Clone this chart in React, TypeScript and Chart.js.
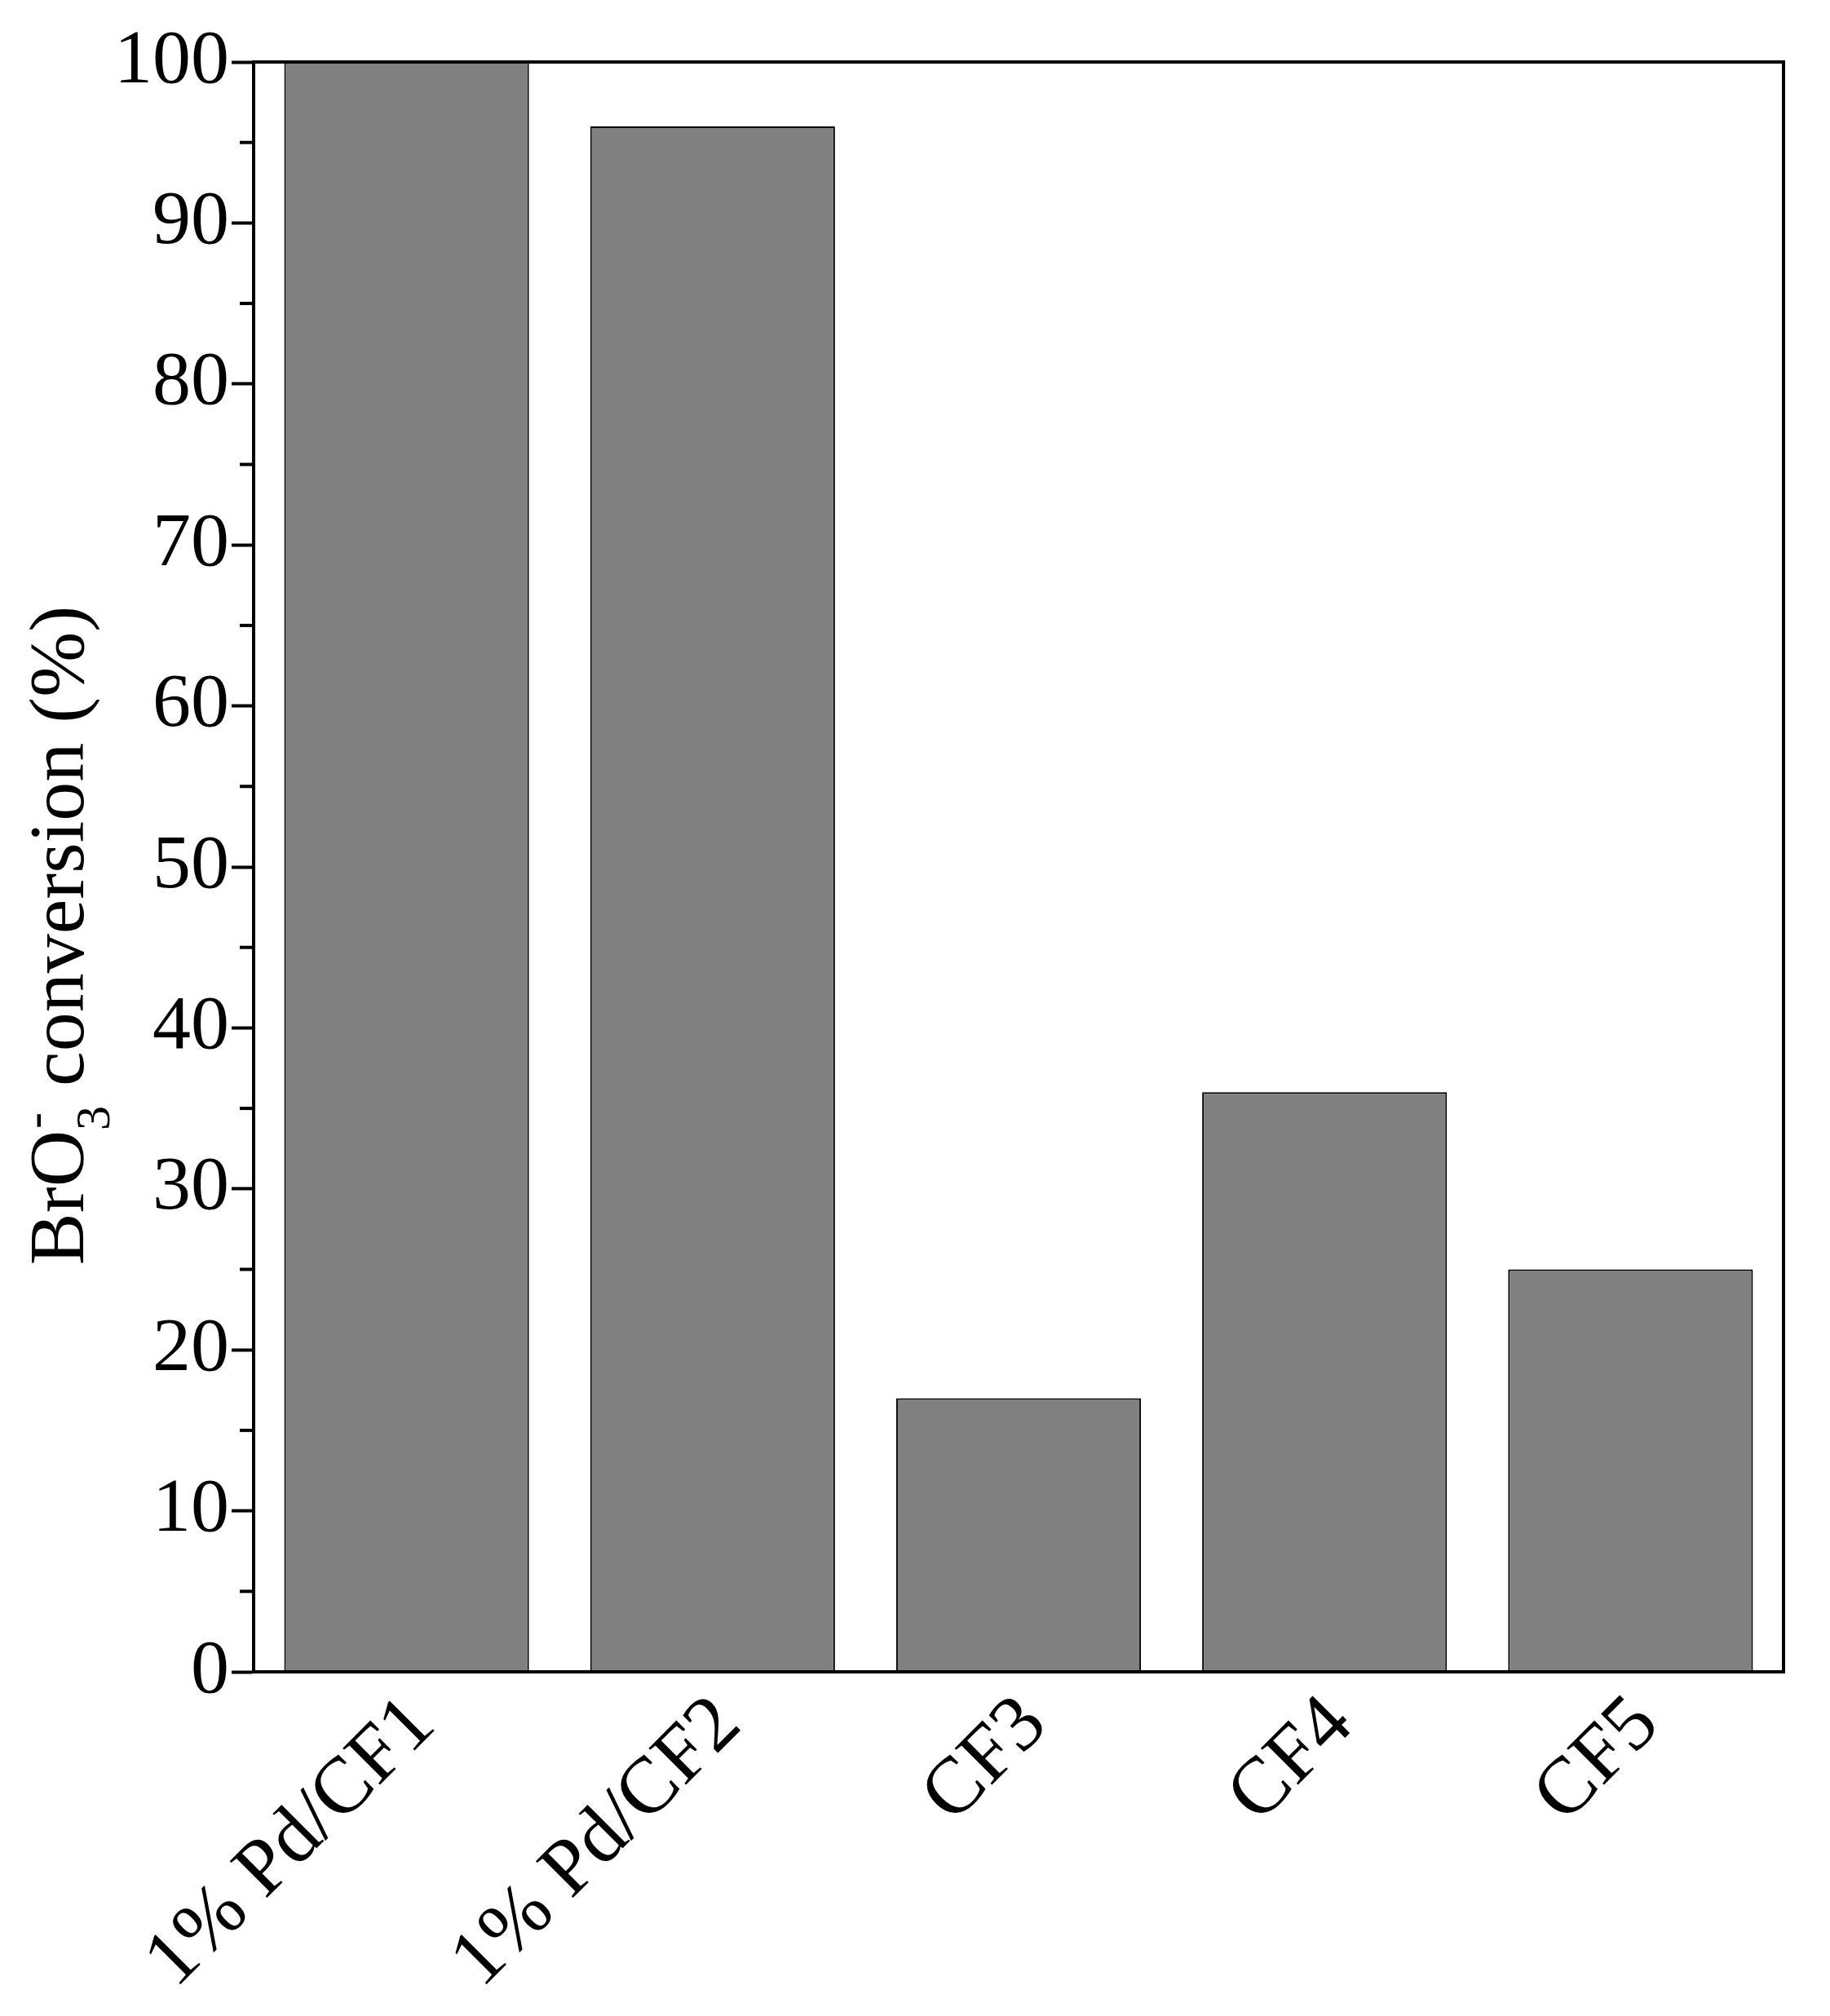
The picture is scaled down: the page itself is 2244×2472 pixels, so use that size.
import React, { useEffect, useRef } from "react";
import { Chart, registerables } from "chart.js";

Chart.register(...registerables);

const categories = ["1% Pd/CF1", "1% Pd/CF2", "CF3", "CF4", "CF5"];
const conversion = [100, 96, 17, 36, 25];
const yMin = 0;
const yMax = 100;
const yMajorStep = 10;
const yMinorValues = [5, 15, 25, 35, 45, 55, 65, 75, 85, 95];
const titleMain = "BrO";
const titleSub = "3";
const titleSup = "-";
const titleRest = " conversion (%)";

const FONT = '"Liberation Serif", "Times New Roman", serif';
const FS = 94;
const TFS = 96;
const XFS = 98;
const W = 2244;
const H = 2472;

const framePlugin = {
  id: "frame",
  afterDatasetsDraw(chart: any) {
    const { ctx, chartArea } = chart;
    const y = chart.scales.y;
    ctx.save();
    ctx.strokeStyle = "#000";
    ctx.lineWidth = 4;
    ctx.strokeRect(
      chartArea.left,
      chartArea.top,
      chartArea.right - chartArea.left,
      chartArea.bottom - chartArea.top
    );
    for (const v of yMinorValues) {
      const py = y.getPixelForValue(v);
      ctx.beginPath();
      ctx.moveTo(chartArea.left - 17, py);
      ctx.lineTo(chartArea.left, py);
      ctx.stroke();
    }
    ctx.restore();
  },
  afterDraw(chart: any) {
    const { ctx, chartArea } = chart;
    ctx.save();
    ctx.fillStyle = "#000";
    ctx.textAlign = "left";
    ctx.textBaseline = "alphabetic";
    const small = Math.round(TFS * 0.62);
    ctx.font = `${TFS}px ${FONT}`;
    const w1 = ctx.measureText(titleMain).width;
    const w3 = ctx.measureText(titleRest).width;
    ctx.font = `${small}px ${FONT}`;
    const w2 = Math.max(ctx.measureText(titleSub).width, ctx.measureText(titleSup).width);
    const total = w1 + w2 + w3;
    const centerY = (chartArea.top + chartArea.bottom) / 2 + 84;
    const baselineX = 102;
    ctx.translate(baselineX, centerY + total / 2);
    ctx.rotate(-Math.PI / 2);
    ctx.font = `${TFS}px ${FONT}`;
    ctx.fillText(titleMain, 0, 0);
    ctx.font = `${small}px ${FONT}`;
    ctx.fillText(titleSub, w1, TFS * 0.33);
    ctx.fillText(titleSup, w1 + 2, -TFS * 0.42);
    ctx.font = `${TFS}px ${FONT}`;
    ctx.fillText(titleRest, w1 + w2, 0);
    ctx.restore();
  },
};

export default function App() {
  const ref = useRef<HTMLCanvasElement | null>(null);

  useEffect(() => {
    if (!ref.current) return;
    const chart = new Chart(ref.current, {
      type: "bar",
      data: {
        labels: categories,
        datasets: [
          {
            data: conversion,
            backgroundColor: "#808080",
            borderColor: "#000",
            borderWidth: 2,
            categoryPercentage: 0.8,
            barPercentage: 1,
          },
        ],
      },
      options: {
        responsive: false,
        animation: false,
        devicePixelRatio: 1,
        layout: { padding: { left: 0, top: 76, right: 57, bottom: 0 } },
        plugins: {
          legend: { display: false },
          tooltip: { enabled: false },
          title: { display: false },
        },
        scales: {
          x: {
            grid: { display: false, drawTicks: false },
            border: { display: true, color: "#000", width: 4 },
            ticks: {
              color: "#000",
              font: { family: FONT, size: XFS },
              minRotation: 45,
              maxRotation: 45,
              padding: 8,
              labelOffset: 20,
            },
            afterFit(scale: any) {
              scale.height = 422;
            },
          },
          y: {
            min: yMin,
            max: yMax,
            grid: {
              display: true,
              drawOnChartArea: false,
              drawTicks: true,
              tickLength: 27,
              tickWidth: 4,
              tickColor: "#000",
            },
            border: { display: true, color: "#000", width: 4 },
            ticks: {
              stepSize: yMajorStep,
              color: "#000",
              font: { family: FONT, size: FS },
              padding: 3,
            },
            afterFit(scale: any) {
              scale.width = 311;
            },
          },
        },
      },
      plugins: [framePlugin],
    });
    return () => chart.destroy();
  }, []);

  return (
    <div style={{ position: "absolute", left: 0, top: 0, width: W, height: H, background: "#fff" }}>
      <canvas ref={ref} width={W} height={H} style={{ width: W, height: H, display: "block" }} />
    </div>
  );
}
